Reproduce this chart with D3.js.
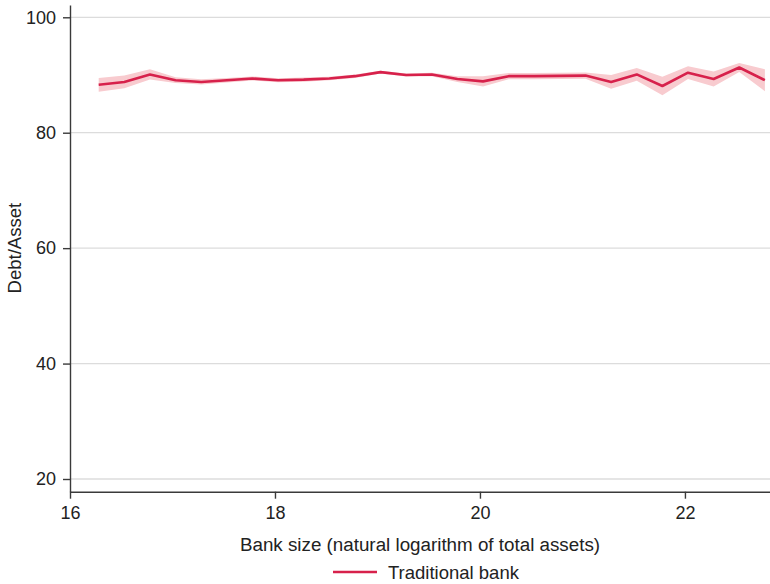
<!DOCTYPE html>
<html>
<head>
<meta charset="utf-8">
<script src="https://cdn.jsdelivr.net/npm/d3@7"></script>
<style>
  html, body { margin: 0; padding: 0; background: #fff; }
  svg { display: block; font-family: "Liberation Sans", Arial, sans-serif; }
</style>
</head>
<body>
<svg id="chart" width="770" height="584"></svg>
<script>
// Bank size bins (natural log of total assets)
const bankSize = [16.28, 16.53, 16.78, 17.03, 17.28, 17.53, 17.78, 18.03, 18.28,
  18.53, 18.78, 19.03, 19.28, 19.53, 19.78, 20.03, 20.28, 20.53, 20.78,
  21.03, 21.28, 21.53, 21.78, 22.03, 22.28, 22.53, 22.78];
// Mean debt-to-asset ratio (%) for traditional banks
const debtAsset = [88.3, 88.8, 90.1, 89.1, 88.8, 89.1, 89.4, 89.1, 89.2,
  89.4, 89.8, 90.5, 90.0, 90.1, 89.3, 88.9, 89.8, 89.8, 89.85,
  89.9, 88.8, 90.1, 88.1, 90.4, 89.3, 91.3, 89.1];
// Half-width of the confidence band (percentage points)
const ciHalf = [1.2, 1.1, 0.9, 0.5, 0.45, 0.4, 0.35, 0.35, 0.35,
  0.3, 0.3, 0.25, 0.25, 0.3, 0.5, 0.9, 0.55, 0.55, 0.55,
  0.55, 1.2, 1.1, 1.6, 1.1, 1.3, 0.8, 1.9];

const xTicks = [16, 18, 20, 22];
const yTicks = [20, 40, 60, 80, 100];
const seriesName = "Traditional bank";

const rows = bankSize.map((s, i) => ({ x: s, y: debtAsset[i], lo: debtAsset[i] - ciHalf[i], hi: debtAsset[i] + ciHalf[i] }));

const svg = d3.select("#chart");
const plotLeft = 70, plotRight = 770, plotTop = 5, plotBottom = 491.7;

const x = d3.scaleLinear().domain([16, 22.83]).range([plotLeft, plotRight]);
const y = d3.scaleLinear().domain([17.8, 102.13]).range([plotBottom, plotTop]);

const lineColor = "#d7214b";
const bandColor = "#f8cbcf";
const axisColor = "#3a3a3a";
const textColor = "#222";
const fontStack = "'Liberation Sans', Arial, sans-serif";

// Horizontal gridlines
svg.append("g")
  .selectAll("line")
  .data(yTicks)
  .join("line")
  .attr("x1", plotLeft).attr("x2", plotRight)
  .attr("y1", d => y(d)).attr("y2", d => y(d))
  .attr("stroke", "#dcdcdc")
  .attr("stroke-width", 1.3);

// Confidence band
svg.append("path")
  .datum(rows)
  .attr("fill", bandColor)
  .attr("d", d3.area().x(d => x(d.x)).y0(d => y(d.lo)).y1(d => y(d.hi)));

// Mean line
svg.append("path")
  .datum(rows)
  .attr("fill", "none")
  .attr("stroke", lineColor)
  .attr("stroke-width", 2.6)
  .attr("stroke-linejoin", "round")
  .attr("d", d3.line().x(d => x(d.x)).y(d => y(d.y)));

// Y axis
const yAxis = svg.append("g")
  .attr("transform", `translate(${plotLeft},0)`)
  .call(d3.axisLeft(y).tickValues(yTicks).tickFormat(d3.format("d"))
    .tickSize(7).tickPadding(7).tickSizeOuter(0));
yAxis.select(".domain").attr("stroke", axisColor).attr("stroke-width", 1.4);
yAxis.selectAll(".tick line").attr("stroke", axisColor).attr("stroke-width", 1.4);
yAxis.selectAll(".tick text")
  .attr("fill", textColor)
  .style("font-size", "18px")
  .style("font-family", fontStack);

// X axis
const xAxis = svg.append("g")
  .attr("transform", `translate(0,${plotBottom})`)
  .call(d3.axisBottom(x).tickValues(xTicks).tickFormat(d3.format("d"))
    .tickSize(7).tickPadding(8).tickSizeOuter(0));
xAxis.select(".domain").attr("stroke", axisColor).attr("stroke-width", 1.4);
xAxis.selectAll(".tick line").attr("stroke", axisColor).attr("stroke-width", 1.4);
xAxis.selectAll(".tick text")
  .attr("fill", textColor)
  .style("font-size", "18px")
  .style("font-family", fontStack);

// Axis titles
svg.append("text")
  .attr("x", (plotLeft + plotRight) / 2)
  .attr("y", 551)
  .attr("text-anchor", "middle")
  .attr("fill", textColor)
  .style("font-size", "18.8px")
  .text("Bank size (natural logarithm of total assets)");

svg.append("text")
  .attr("transform", `translate(21,${y(60)}) rotate(-90)`)
  .attr("text-anchor", "middle")
  .attr("fill", textColor)
  .style("font-size", "18.5px")
  .text("Debt/Asset");

// Legend
const legend = svg.append("g").attr("transform", "translate(333,572)");
legend.append("line")
  .attr("x1", 0).attr("x2", 44)
  .attr("y1", 0).attr("y2", 0)
  .attr("stroke", lineColor)
  .attr("stroke-width", 2.6);
legend.append("text")
  .attr("x", 55)
  .attr("y", 6.5)
  .attr("fill", textColor)
  .style("font-size", "18.5px")
  .text(seriesName);
</script>
</body>
</html>
